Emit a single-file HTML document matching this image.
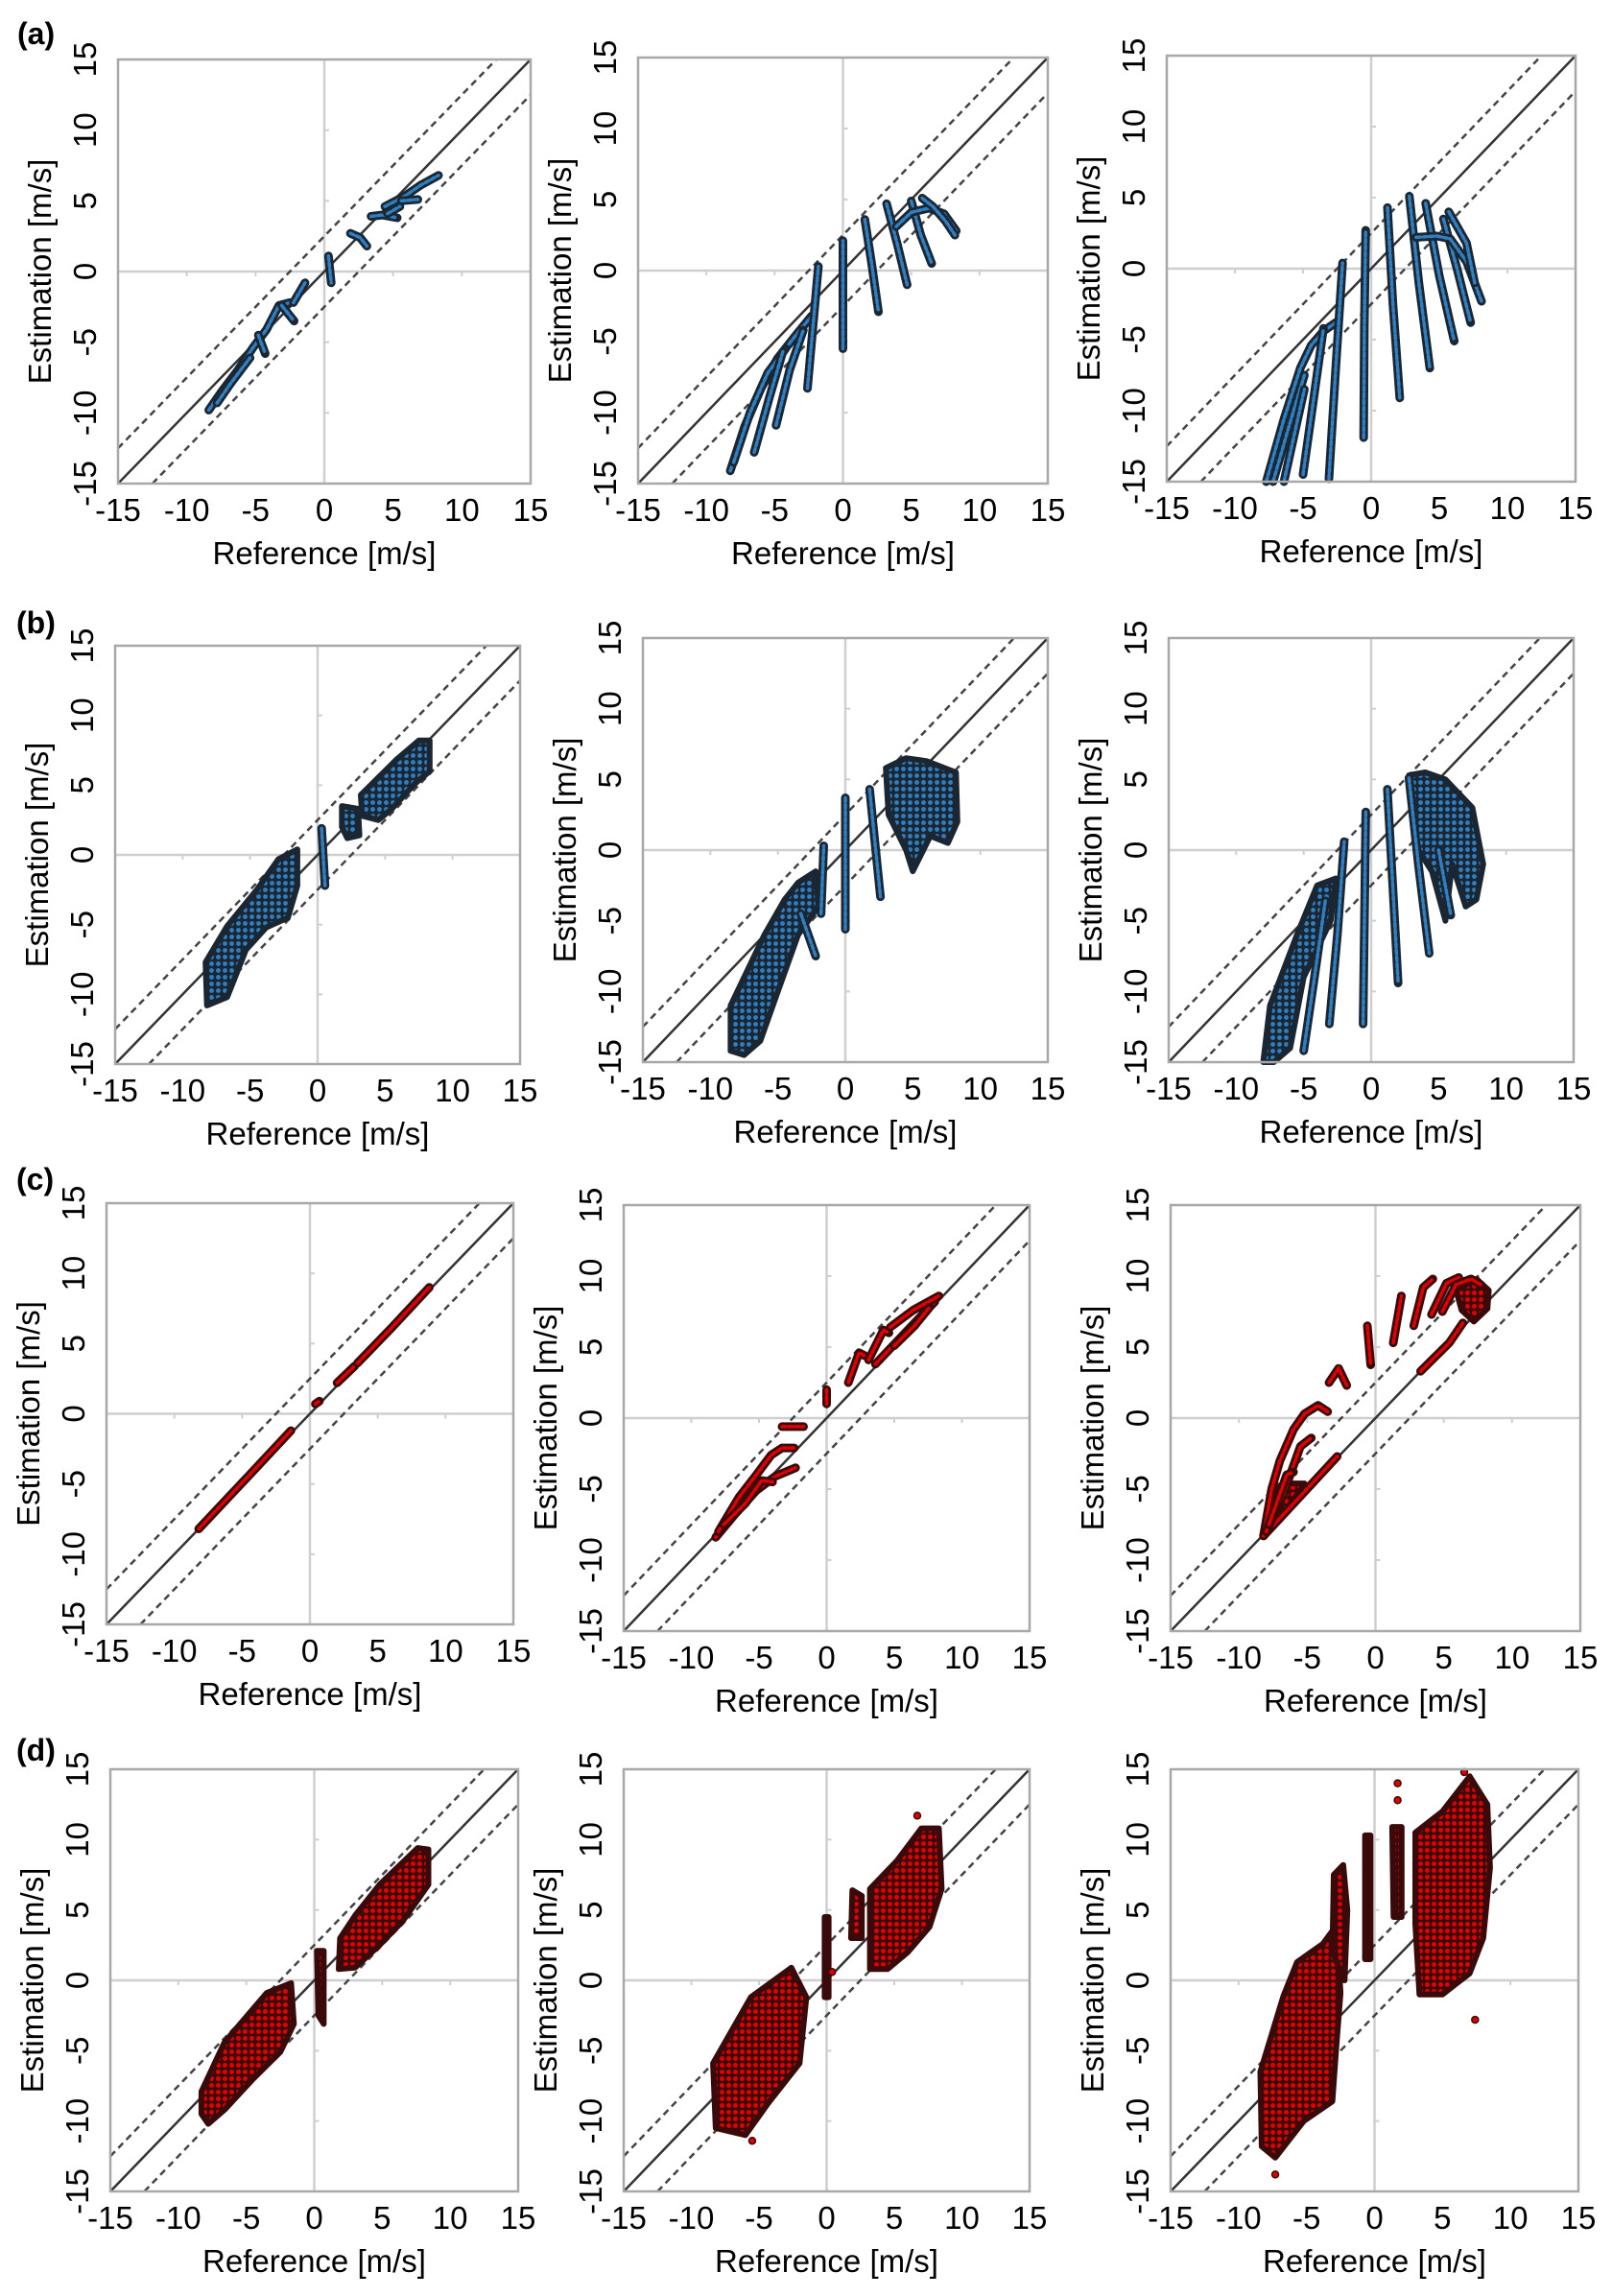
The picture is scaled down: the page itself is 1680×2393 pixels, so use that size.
<!DOCTYPE html>
<html>
<head>
<meta charset="utf-8">
<style>
html,body{margin:0;padding:0;background:#fff;}
svg{display:block;}
text{font-family:"Liberation Sans",Arial,sans-serif;fill:#000;}
</style>
</head>
<body>
<svg id="fig" width="1680" height="2393" viewBox="0 0 1680 2393" xmlns="http://www.w3.org/2000/svg">
<defs>
<pattern id="dotsBlue" width="7" height="7" patternUnits="userSpaceOnUse">
<rect width="7" height="7" fill="#1b2633"/><circle cx="3.5" cy="3.5" r="2.4" fill="#2f7fc1"/>
</pattern>
<pattern id="dotsRed" width="7" height="7" patternUnits="userSpaceOnUse">
<rect width="7" height="7" fill="#3a0a0a"/><circle cx="3.5" cy="3.5" r="2.5" fill="#e00000"/>
</pattern>
</defs>
</svg>
<script>
// ---- axis / tick data ----
const tickValues = [-15, -10, -5, 0, 5, 10, 15];
const minorTicks = [-10, -5, 5, 10];
const axisMin = -15, axisMax = 15;
const bandOffset = 2.5;
const xTitle = "Reference [m/s]";
const yTitle = "Estimation [m/s]";
const rowLetters = ["(a)", "(b)", "(c)", "(d)"];

// ---- series data (reference, estimation) in m/s ----
const a1Tracks = [
 [[-8.4,-9.8],[-7.4,-8.4],[-6.3,-7.0],[-5.2,-5.4],[-4.2,-4.1],[-3.3,-2.4],[-2.5,-2.2]],
 [[-7.8,-9.3],[-6.8,-7.9],[-5.4,-6.1]],
 [[-4.8,-4.5],[-4.3,-5.8]],
 [[-3.1,-2.4],[-2.2,-3.5]],
 [[-2.25,-2.2],[-1.4,-0.8]],
 [[0.3,1.1],[0.5,-0.8]],
 [[1.9,2.7],[2.6,2.4],[3.1,1.8]],
 [[3.4,3.9],[4.2,4.0],[5.3,3.8]],
 [[4.4,4.6],[5.8,5.3],[7.0,6.1],[8.3,6.8]],
 [[5.6,5.0],[6.8,5.1]],
 [[4.6,4.1],[5.5,4.6]]
];
const a2Tracks = [
 [[-8.25,-14.1],[-7.2,-11],[-6,-8.3],[-4.8,-6.2],[-3.4,-4.5],[-2.3,-3.2]],
 [[-8,-13.5],[-6.8,-10],[-5.5,-7.2],[-4.2,-5.5]],
 [[-6.5,-12.8],[-5.4,-9],[-4.4,-5.7]],
 [[-4.9,-10.9],[-3.9,-7],[-2.9,-4.2]],
 [[-2.6,-8.3],[-2.2,-4],[-1.8,0.3]],
 [[0,-5.5],[0,2.1]],
 [[1.6,3.6],[2.1,0.5],[2.6,-2.9]],
 [[3.2,4.7],[4,1.8],[4.7,-1]],
 [[5,4.9],[5.7,2.5],[6.5,0.5]],
 [[3.9,3.1],[5,4.1],[6.3,4.4],[7.4,4.0],[8.3,2.8]],
 [[5.8,5.1],[6.6,4.5],[7.5,3.5],[8.2,2.5]]
];
const a3Tracks = [
 [[-7.7,-15],[-6.4,-10.6],[-5.2,-7],[-4.4,-5.4],[-3.5,-4.4],[-2.6,-3.8]],
 [[-7.2,-15],[-6,-11],[-4.9,-7.5]],
 [[-6.4,-15],[-5.6,-11.5],[-4.9,-8.5]],
 [[-5,-14.5],[-4.2,-9],[-3.5,-4.2]],
 [[-3.1,-14.8],[-2.6,-7],[-2.1,0.4]],
 [[-0.55,-11.9],[-0.5,-4],[-0.4,2.7]],
 [[1.2,4.3],[1.6,-2.5],[2.1,-9.1]],
 [[2.8,5.1],[3.5,-1],[4.3,-7]],
 [[4,4.6],[5,-0.5],[6.1,-5.1]],
 [[5.3,3.5],[6.3,0],[7.3,-3.8]],
 [[3.3,2.2],[4.8,2.3],[5.8,2.1],[7,0.5],[8.1,-2.3]],
 [[5.7,4.0],[7.0,1.8],[7.6,-1]]
];
const b1Tracks = [[[0.3,1.9],[0.55,-2.2]]];
const b1Clouds = [
 [[-8.2,-10.8],[-8.3,-7.7],[-6.7,-5.1],[-4.5,-2.5],[-2.9,-0.3],[-1.5,0.4],[-1.5,-2.2],[-2.2,-4.5],[-3.8,-5.2],[-5.3,-6.8],[-6.7,-10.2]],
 [[1.8,3.5],[3,3.3],[3.1,1.4],[2.2,1.2],[1.8,2]],
 [[3.3,2.8],[3.2,4.3],[5.8,6.8],[7.5,8.2],[8.3,8.2],[8.3,6],[7.2,5.1],[5.5,3.3],[4.5,2.5]]
];
const b2Tracks = [
 [[-1.8,-4.5],[-1.6,0.3]],
 [[0,-5.6],[0,3.7]],
 [[1.8,4.3],[2.2,0.5],[2.6,-3.3]],
 [[-3.3,-4.5],[-2.2,-7.5]]
];
const b2Clouds = [
 [[-8.5,-14.2],[-8.5,-11],[-6,-6],[-4.5,-3.5],[-3.5,-2.3],[-2.2,-1.5],[-2,-4],[-3.5,-6],[-5,-10],[-6.3,-13.5],[-7.5,-14.5]],
 [[3,5.8],[4.5,6.5],[6,6.3],[8.2,5.5],[8.3,2],[7.6,0.5],[6.3,1],[5,-1.5],[4.5,0],[3.2,2.5]]
];
const b3Tracks = [
 [[-5,-14.2],[-4.2,-9],[-3.4,-3.6]],
 [[-3.1,-12.3],[-2.5,-6],[-2,0.6]],
 [[-0.6,-12.3],[-0.5,-5],[-0.4,2.7]],
 [[1.2,4.3],[1.6,-2.5],[2,-9.4]],
 [[2.8,5.1],[3.5,-1],[4.3,-7.3]],
 [[5,0],[5.9,-4.6]]
];
const b3Clouds = [
 [[-8,-15],[-7.5,-11],[-5.5,-6],[-4,-2.5],[-2.6,-2],[-3,-5],[-5,-9],[-6,-14],[-7.2,-15]],
 [[2.8,5.3],[4,5.5],[5.5,5],[7.5,3],[8.3,-1],[7.8,-3.5],[7,-4],[6,-1],[5.5,-5],[4.5,-1.5],[3.5,0],[3,3]]
];
const c1Tracks = [
 [[-8.2,-8.2],[-4.5,-4.4],[-1.4,-1.2]],
 [[0.4,0.7],[0.7,0.9]],
 [[2,2.2],[3.3,3.4]],
 [[3.5,3.6],[6,6.1],[8.8,9.0]]
];
const c2Tracks = [
 [[-8.2,-8.4],[-6.8,-6.8],[-5.2,-5.1],[-3.8,-4.1],[-2.3,-3.5]],
 [[-8,-8],[-6.5,-5.6],[-5.2,-4],[-4.1,-2.6],[-3.3,-2.1],[-2.4,-2.1]],
 [[-7.6,-7.5],[-6,-6],[-4.8,-4.4],[-4,-4.5]],
 [[-3.3,-0.6],[-1.7,-0.6]],
 [[0,2],[0,1]],
 [[1.6,2.5],[2.4,4.6],[2.8,4.4]],
 [[3.1,4.1],[4.2,6.2],[4.6,6]],
 [[3.6,3.8],[5.8,6.0],[8,8.2]],
 [[4.7,6.4],[6.4,7.6],[8.3,8.6]],
 [[5,5.1],[6.5,6.5],[7.6,7.8]]
];
const c3Tracks = [
 [[-8.2,-8.3],[-7.6,-5],[-7,-3],[-6,-0.8],[-5.2,0.3],[-4.2,0.9],[-3.5,0.45]],
 [[-8.2,-8.3],[-5.5,-5.5],[-2.8,-2.7]],
 [[-8,-8],[-6.8,-5.5],[-5.5,-2],[-4.7,-1.4]],
 [[-7.8,-7.5],[-6.5,-4],[-6,-3.8]],
 [[-3.4,2.5],[-2.7,3.5],[-2.1,2.3]],
 [[-0.6,6.5],[-0.35,3.75]],
 [[1.3,5.3],[1.9,8.6]],
 [[2.8,6.5],[3.5,9.2],[4.2,9.8]],
 [[4.1,7.3],[5.2,9.5],[6.1,9.9]],
 [[4.9,7.5],[5.9,9.4],[7,9.8],[7.7,9.4]],
 [[3.3,3.3],[5.4,5.3],[6.4,6.7]]
];
const c3Clouds = [
 [[-8.2,-8.3],[-7.4,-5],[-6.2,-4.6],[-5.2,-4.6],[-7,-7.2]],
 [[5.9,9],[7.4,9.8],[8.3,9],[8.2,7.7],[7.2,6.8],[6.3,7.6]]
];
const d1Clouds = [
 [[-8.3,-9.5],[-8.3,-7.9],[-6.6,-4.4],[-3.5,-0.9],[-1.7,-0.2],[-1.5,-3.1],[-2.5,-5.1],[-4.5,-7],[-6.6,-9.2],[-7.8,-10.2]],
 [[1.8,0.8],[1.9,3],[3,4.6],[4.8,6.8],[7.6,9.4],[8.4,9.3],[8.4,6.8],[6.5,4.2],[4.8,2.5],[3,0.9]],
 [[0.2,2.1],[0.7,2.1],[0.7,-3.1],[0.3,-2.5]]
];
const d2Clouds = [
 [[-8.2,-10.5],[-8.4,-5.9],[-5.6,-1.2],[-2.6,0.9],[-1.5,-1.2],[-2,-5.9],[-4.3,-8.7],[-6,-11]],
 [[1.8,3],[1.9,6.4],[2.6,6],[2.6,3]],
 [[3.2,0.8],[3.2,6.5],[5.2,8.5],[7,10.8],[8.3,10.8],[8.5,6.5],[7.6,3.8],[6,2],[4.5,0.8]],
 [[-0.15,4.5],[0.15,4.5],[0.15,-1.2],[-0.15,-1.2]]
];
const d2Points = [[6.7,11.7],[0.4,0.6],[-5.5,-11.4]];
const d3Clouds = [
 [[-8.3,-11.8],[-8.4,-6.5],[-6.7,-1.1],[-5.7,1.3],[-3.8,2.6],[-2.8,3.9],[-2.5,-0.9],[-2.8,-4.6],[-3.1,-8.6],[-5.2,-10],[-7.3,-12.6]],
 [[-3.1,2],[-3,7.5],[-2.3,8.2],[-2,5],[-2.2,0]],
 [[-0.7,10.3],[-0.3,10.3],[-0.3,1.5],[-0.7,1.5]],
 [[1.3,10.9],[2.0,10.9],[2.0,4.5],[1.4,4.5]],
 [[3,10.5],[5,12],[7,14.5],[8.3,12.5],[8.5,8],[8,3],[7,0.5],[5,-1],[3.3,-1],[3,4]]
];
const d3Points = [[7.4,-2.8],[1.7,14.0],[6.6,14.8],[-7.3,-13.8],[1.7,12.8]];

// ---- layout (pixel boxes: left, top, right, bottom) ----
const panels = [
 {id:"a1", row:0, box:[123,62,553,504], color:"blue", tracks:a1Tracks, clouds:[], points:[]},
 {id:"a2", row:0, box:[665,60,1092,504], color:"blue", tracks:a2Tracks, clouds:[], points:[]},
 {id:"a3", row:0, box:[1216,58,1642,502], color:"blue", tracks:a3Tracks, clouds:[], points:[]},
 {id:"b1", row:1, box:[120,673,542,1109], color:"blue", tracks:b1Tracks, clouds:b1Clouds, points:[]},
 {id:"b2", row:1, box:[670,665,1092,1107], color:"blue", tracks:b2Tracks, clouds:b2Clouds, points:[]},
 {id:"b3", row:1, box:[1218,665,1640,1107], color:"blue", tracks:b3Tracks, clouds:b3Clouds, points:[]},
 {id:"c1", row:2, box:[111,1254,535,1693], color:"red", tracks:c1Tracks, clouds:[], points:[]},
 {id:"c2", row:2, box:[650,1256,1073,1700], color:"red", tracks:c2Tracks, clouds:[], points:[]},
 {id:"c3", row:2, box:[1220,1256,1647,1700], color:"red", tracks:c3Tracks, clouds:c3Clouds, points:[]},
 {id:"d1", row:3, box:[115,1844,540,2284], color:"red", tracks:[], clouds:d1Clouds, points:[]},
 {id:"d2", row:3, box:[650,1844,1073,2284], color:"red", tracks:[], clouds:d2Clouds, points:d2Points},
 {id:"d3", row:3, box:[1220,1844,1645,2284], color:"red", tracks:[], clouds:d3Clouds, points:d3Points}
];
const letterPos = [[18,46],[17,660],[17,1240],[17,1835]];
const palette = {
 blue:{fill:"#2f7fc1", edge:"#1b2633", pattern:"url(#dotsBlue)"},
 red:{fill:"#e00000", edge:"#3a0a0a", pattern:"url(#dotsRed)"}
};

const NS = "http://www.w3.org/2000/svg";
const svg = document.getElementById("fig");
function mk(tag, attrs, parent){
  const e = document.createElementNS(NS, tag);
  for (const k in attrs) e.setAttribute(k, attrs[k]);
  (parent || svg).appendChild(e);
  return e;
}

rowLetters.forEach((L, i) => {
  const t = mk("text", {x:letterPos[i][0], y:letterPos[i][1], "font-size":32, "font-weight":"bold"});
  
  
  t.textContent = L;
});

panels.forEach(p => {
  const [L, T, R, B] = p.box;
  const sx = v => L + (v - axisMin) / (axisMax - axisMin) * (R - L);
  const sy = v => B - (v - axisMin) / (axisMax - axisMin) * (B - T);
  const col = palette[p.color];
  const g = mk("g", {});
  
  

  const zx = mk("line", {x1:sx(0), y1:T, x2:sx(0), y2:B, stroke:"#cfcfcf", "stroke-width":2.5}, g);
  
  
  const zy = mk("line", {x1:L, y1:sy(0), x2:R, y2:sy(0), stroke:"#cfcfcf", "stroke-width":2.5}, g);
  
  
  minorTicks.forEach(v => {
    const tk = mk("line", {x1:sx(v), y1:sy(0), x2:sx(v), y2:sy(0)+5, stroke:"#cfcfcf", "stroke-width":2}, g);
    
    
    const tk2 = mk("line", {x1:sx(0), y1:sy(v), x2:sx(0)+5, y2:sy(v), stroke:"#cfcfcf", "stroke-width":2}, g);
    
    
  });

  const idl = mk("line", {x1:sx(axisMin), y1:sy(axisMin), x2:sx(axisMax), y2:sy(axisMax), stroke:"#333", "stroke-width":2.5}, g);
  
  
  const up = mk("line", {x1:sx(axisMin), y1:sy(axisMin+bandOffset), x2:sx(axisMax-bandOffset), y2:sy(axisMax), stroke:"#444", "stroke-width":2.5, "stroke-dasharray":"7 5"}, g);
  
  
  const lo = mk("line", {x1:sx(axisMin+bandOffset), y1:sy(axisMin), x2:sx(axisMax), y2:sy(axisMax-bandOffset), stroke:"#444", "stroke-width":2.5, "stroke-dasharray":"7 5"}, g);
  
  

  p.clouds.forEach(c => {
    const pts = c.map(q => sx(q[0]).toFixed(1) + "," + sy(q[1]).toFixed(1)).join(" ");
    const poly = mk("polygon", {points:pts, fill:col.pattern, stroke:col.edge, "stroke-width":6, "stroke-linejoin":"round"}, g);
    
    
  });
  p.tracks.forEach(tr => {
    const pts = tr.map(q => sx(q[0]).toFixed(1) + "," + sy(q[1]).toFixed(1)).join(" ");
    const outer = mk("polyline", {points:pts, fill:"none", stroke:col.edge, "stroke-width":9, "stroke-linecap":"round", "stroke-linejoin":"round"}, g);
    
    
    const inner = mk("polyline", {points:pts, fill:"none", stroke:col.fill, "stroke-width":3.5, "stroke-dasharray":"4 3", "stroke-linecap":"round"}, g);
    
    
  });
  p.points.forEach(q => {
    const c = mk("circle", {cx:sx(q[0]), cy:sy(q[1]), r:3.5, fill:col.fill, stroke:col.edge, "stroke-width":1.5}, g);
    
    
  });

  const fr = mk("rect", {x:L, y:T, width:R-L, height:B-T, fill:"none", stroke:"#a8a8a8", "stroke-width":2.5}, g);
  
  

  tickValues.forEach(v => {
    const tx = mk("text", {x:sx(v), y:B+39, "font-size":33, "text-anchor":"middle"}, g);
    
    
    tx.textContent = String(v);
    const ty = mk("text", {x:0, y:0, "font-size":33, "text-anchor":"middle", transform:"translate(" + (L-23) + "," + sy(v) + ") rotate(-90)"}, g);
    
    
    ty.textContent = String(v);
  });
  const xt = mk("text", {x:(L+R)/2, y:B+84, "font-size":33, "text-anchor":"middle"}, g);
  
  
  xt.textContent = xTitle;
  const yt = mk("text", {x:0, y:0, "font-size":33, "text-anchor":"middle", transform:"translate(" + (L-70) + "," + ((T+B)/2) + ") rotate(-90)"}, g);
  
  
  yt.textContent = yTitle;
});
</script>
</body>
</html>
